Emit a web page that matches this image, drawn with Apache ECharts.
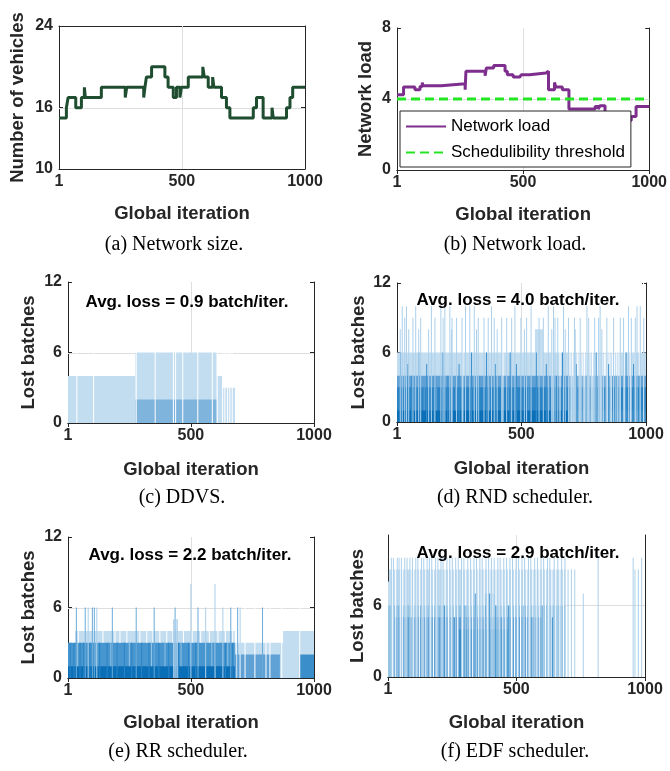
<!DOCTYPE html>
<html><head><meta charset="utf-8">
<script src="https://cdn.jsdelivr.net/npm/echarts@6/dist/echarts.min.js"></script>
<style>html,body{margin:0;padding:0;background:#fff}#c{width:670px;height:771px}</style>
</head><body><div id="c"></div>
<script>
// ---------------- data ----------------
const xTicks = [1, 500, 1000];
// (a) Network size
const vehIter  = [1, 31, 38, 69, 92, 104, 108, 173, 270, 276, 345, 350, 356, 377, 431, 444, 465, 478, 492, 498, 526, 585, 591, 607, 625, 630, 661, 681, 695, 790, 803, 830, 866, 871, 925, 939, 950, 1000];
const vehCount = [15, 16, 17, 16, 17, 18, 17, 18, 17, 18, 17, 18, 19, 20, 19, 18, 17, 18, 17, 18, 19, 20, 19, 18, 19, 18, 17, 16, 15, 16, 17, 15, 16, 15, 16, 17, 18, 18];
const vehTicks = [10, 16, 24];
// (b) Network load
const loadIter  = [1, 27, 72, 92, 101, 104, 176, 271, 274, 350, 355, 384, 429, 438, 461, 487, 494, 526, 591, 601, 625, 630, 656, 682, 786, 798, 805, 825, 860, 900, 929, 948, 1000];
const loadValue = [4.24, 4.67, 4.52, 4.71, 4.93, 4.75, 4.86, 4.52, 5.56, 5.31, 5.74, 5.89, 5.56, 5.37, 5.24, 5.18, 5.37, 5.46, 5.56, 4.52, 4.93, 4.67, 4.52, 3.43, 3.58, 3.43, 3.62, 3.2, 3.0, 2.79, 3.01, 3.58, 3.58];
const threshold = 4;
const loadTicks = [0, 4, 8];
const lostTicks = [0, 6, 12];
// bands: [firstIter, lastIter, height, shade]
const ddvsBands = [[1,274,4,1],[275,604,6,1],[605,628,4,1],[629,679,3,1],[275,604,2,7]];
const ddvsGaps  = [37,105,278,355,429,438,467,528,587,607,629,638,649,658,668];

const rndBands  = [[1,690,6,1],[896,1000,6,1],[555,586,8,1],[1,1000,4,9],[1,1000,3,8],[1,688,1,5],[689,1000,1,4]];
const rndLight6 = [695,702,710,716,722,731,740,748,757,766,775,781,790,800,808,815,822,830,840,848,856,862,870,878,885,892];
const rndSpike10 = [22,39,76,139,177,193,213,276,293,311,380,474,539,608,629,669,763,816,930,964,977];
const rndSpike9  = [32,65,96,153,186,222,240,262,327,350,367,391,421,441,461,498,521,571,588,635,646,689,713,736,770,794,810,843,870,897,910,941,957,991];
const rndSpike8  = [14,48,88,128,220,320,403,512,622,676,716,823];
const rndDark    = [[15,6],[45,5],[60,4],[88,6],[120,5],[150,4],[185,6],[205,4],[250,5],[300,6],[330,4],[360,6],[395,5],[420,4],[455,6],[480,5],[520,4],[560,6],[600,5],[640,4],[665,6],[720,5],[760,4],[800,6],[850,5],[880,4],[920,6],[950,5],[975,4]];
const rndLightLow = [30,72,110,160,236,310,372,448,530,612,680];
const rndWhite   = [265,426,623,655,700,707,716,735,752,770,784,800,818,845,860,880,897,915,937,957,975,990];

const rrBands   = [[30,678,4,1],[875,1000,4,1],[679,1000,3,1],[1,678,3,10],[679,861,2,9],[943,1000,2,4],[1,678,1,5]];
const rrSpike6  = [35,71,100,108,181,278,351,436,529,662,690,791];
const rrSpike6L = [83,118,560,630,700];
const rrSpike5  = [430,435,440,445];
const rrSpike8  = [500,598];
const rrWhite34 = [22,43,71,102,143,192,212,240,293,321,346,374,402,427,470,505,540,575,610,640,670];
const rrDark    = [10,25,50,65,90,130,160,200,230,260,300,330,370,410,450,490,520,560,600,640,670];
const rrLight   = [40,115,175,250,340,395,460,530,585,650];
const rrWhite   = [687,700,720,760,805,821,869,942];

const edfBands  = [[1,27,8,1],[5,690,9,1],[377,416,7,2],[1,690,6,2],[27,600,5,9],[273,468,4,4]];
const edfSpike10 = [14,22,37,44,53,66,75,86,96,109,117,131,140,153,162,171,186,195,207,215,230,241,251,264,274,287,296,311,322,335,345,358,367,382,392,403,414,428,437,451,462,475,485,499,508,522,532,547,556,571,582,596,606,621,630,647,661,676,689,818,954,987];
const edfSpike9  = [701,714,727,961,974];
const edfSpike7  = [760];
const edfWhite   = [18,31,49,58,71,91,101,113,124,137,148,167,178,191,211,223,236,247,259,271,291,303,317,329,341,352,363,375,387,397,409,421,433,445,457,469,481,493,504,516,528,540,552,564,577,589,601,613,626,638,653,669,683];
const edfDark    = [[40,6],[95,5],[130,6],[170,5],[220,6],[260,5],[300,6],[340,7],[380,6],[395,7],[420,6],[440,5],[470,6],[500,5],[530,6],[560,5],[600,6],[640,5]];

// ---------------- styling ----------------
const SHADES = ['#ffffff', '#c3ddf0', '#94c4e4', '#6aaad8', '#3a8fcb', '#0b6fb8', '#acd0eb', '#7fb5dd', '#2a84c5', '#5fa0d5', '#4896cf'];
const FONT = '"Liberation Sans", Arial, Helvetica, sans-serif';
const TXT = '#262626';
const grids = [
  {left:59,  top:26,  width:246, height:143},
  {left:397, top:28,  width:256, height:142},
  {left:68,  top:282, width:246, height:141},
  {left:397, top:283, width:249, height:139},
  {left:68,  top:537, width:246, height:141},
  {left:388, top:535, width:257, height:142}
];
const yCfg = [
  {min:10, max:24, ticks:vehTicks, name:'Number of vehicles', gap:32, grid:16},
  {min:0, max:8, ticks:loadTicks, name:'Network load', gap:22, grid:4},
  {min:0, max:12, ticks:lostTicks, name:'Lost batches', gap:30, grid:6},
  {min:0, max:12, ticks:lostTicks, name:'Lost batches', gap:29, grid:6},
  {min:0, max:12, ticks:lostTicks, name:'Lost batches', gap:30, grid:6},
  {min:0, max:11.9, ticks:[0,6], name:'Lost batches', gap:21, grid:6}
];
const xNameGap = [35, 35, 37, 37, 35, 36];

const xAxis = [], yAxis = [], series = [];
const fmt = v => String(v);
const nameStyle = {fontSize:18.5, fontWeight:'bold', color:TXT, fontFamily:FONT};
grids.forEach((g, i) => {
  const yc = yCfg[i];
  const lineS = {show:true, lineStyle:{color:TXT, width:1}};
  xAxis.push({gridIndex:i, type:'value', min:1, max:1000, position:'bottom', axisLine:lineS,
    axisTick:{inside:true, length:4, customValues:xTicks, lineStyle:{color:TXT}},
    axisLabel:{customValues:xTicks, formatter:fmt, fontSize:16, fontWeight:'bold', color:TXT, fontFamily:FONT, margin:5},
    splitLine:{show:false}, name:'Global iteration', nameLocation:'middle', nameGap:xNameGap[i],
    nameTextStyle:nameStyle});
  xAxis.push({gridIndex:i, type:'value', min:1, max:1000, position:'top', axisLine:lineS,
    axisTick:{inside:true, length:4, customValues:xTicks, lineStyle:{color:TXT}},
    axisLabel:{show:false}, splitLine:{show:false}});
  yAxis.push({gridIndex:i, type:'value', min:yc.min, max:yc.max, position:'left', axisLine:lineS,
    axisTick:{inside:true, length:4, customValues:yc.ticks, lineStyle:{color:TXT}},
    axisLabel:{customValues:yc.ticks, formatter:fmt, fontSize:16, fontWeight:'bold', color:TXT, fontFamily:FONT, margin:6},
    splitLine:{show:false}, name:yc.name, nameLocation:'middle', nameRotate:90, nameGap:yc.gap,
    nameTextStyle:nameStyle});
  yAxis.push({gridIndex:i, type:'value', min:yc.min, max:yc.max, position:'right', axisLine:lineS,
    axisTick:{inside:true, length:4, customValues:yc.ticks, lineStyle:{color:TXT}},
    axisLabel:{show:false}, splitLine:{show:false}});
  // grid lines (behind data)
  series.push({type:'custom', xAxisIndex:2*i, yAxisIndex:2*i, z:1, silent:true,
    data:[[500, yc.grid]], encode:{x:0, y:1},
    renderItem:(params, api) => {
      const p = api.coord([api.value(0), api.value(1)]);
      const cs = params.coordSys;
      const st = {stroke:'#dedede', lineWidth:1};
      return {type:'group', children:[
        {type:'line', shape:{x1:Math.round(p[0])+0.5, y1:cs.y, x2:Math.round(p[0])+0.5, y2:cs.y+cs.height}, style:st},
        {type:'line', shape:{x1:cs.x, y1:Math.round(p[1])+0.5, x2:cs.x+cs.width, y2:Math.round(p[1])+0.5}, style:st}
      ]};
    }});
});

function rectItem(params, api) {
  const x0 = api.value(0), x1 = api.value(1), y0 = api.value(2), y1 = api.value(3), sh = api.value(4);
  const a = api.coord([x0, y0]), b = api.coord([x1, y1]);
  let left = Math.min(a[0], b[0]), w = Math.abs(b[0] - a[0]);
  if (w < 1) { left = (a[0] + b[0]) / 2 - 0.5; w = 1; }
  return {type:'rect', shape:{x:left, y:b[1], width:w, height:a[1]-b[1]}, style:{fill:SHADES[sh]}};
}
const bandRows = (list) => list.map(b => [b[0]-0.5, b[1]+0.5, 0, b[2], b[3]]);
const streakRows = (iters, bottom, top, shade) => iters.map(it => [it-0.5, it+0.5, bottom, top, shade]);
const pairRows = (list, bottom, shade) => list.map(p => [p[0]-0.5, p[0]+0.5, bottom, p[1], shade]);
function rectSeries(i, rows, z) {
  series.push({type:'custom', xAxisIndex:2*i, yAxisIndex:2*i, z:z, silent:true, clip:true,
    data:rows, encode:{x:[0,1], y:[2,3]}, renderItem:rectItem});
}

// (a)
series.push({type:'line', xAxisIndex:0, yAxisIndex:0, z:3, step:'end', symbol:'none',
  data:vehIter.map((x, k) => [x, vehCount[k]]), lineStyle:{color:'#1e4d2f', width:3}});
// (b)
series.push({name:'Network load', type:'line', xAxisIndex:2, yAxisIndex:2, z:3, step:'end', symbol:'none',
  data:loadIter.map((x, k) => [x, loadValue[k]]), lineStyle:{color:'#7e2f8e', width:3}, itemStyle:{color:'#7e2f8e'}});
series.push({name:'Schedulibility threshold', type:'line', xAxisIndex:2, yAxisIndex:2, z:3, symbol:'none',
  data:[[1, threshold], [1000, threshold]], lineStyle:{color:'#22e622', width:3, type:[9,5]}, itemStyle:{color:'#22e622'}});
// (c)
rectSeries(2, bandRows(ddvsBands), 2);
rectSeries(2, streakRows(ddvsGaps, 0, 12, 0), 3);
// (d)
rectSeries(3, bandRows(rndBands), 2);
rectSeries(3, [].concat(
  streakRows(rndWhite, 0, 12, 0),
  streakRows(rndLight6, 0, 6, 1),
  streakRows(rndLightLow, 1, 3, 9),
  pairRows(rndDark, 0, 4),
  streakRows(rndSpike10, 0, 10, 6),
  streakRows(rndSpike9, 0, 9, 6),
  streakRows(rndSpike8, 0, 8, 6)
), 3);
// (e)
rectSeries(4, bandRows(rrBands), 2);
rectSeries(4, [].concat(
  streakRows(rrWhite, 0, 12, 0),
  streakRows(rrWhite34, 3, 4, 0),
  streakRows(rrLight, 1, 3, 2),
  streakRows(rrDark, 0, 3, 8),
  streakRows(rrSpike6, 0, 6, 3),
  streakRows(rrSpike6L, 0, 6, 6),
  streakRows(rrSpike5, 0, 5, 6),
  streakRows(rrSpike8, 0, 8, 6)
), 3);
// (f)
rectSeries(5, bandRows(edfBands), 2);
rectSeries(5, [].concat(
  streakRows(edfWhite, 0, 12, 0),
  pairRows(edfDark, 0, 4),
  streakRows(edfSpike10, 0, 10, 6),
  streakRows(edfSpike9, 0, 9, 6),
  streakRows(edfSpike7, 0, 7, 6)
), 3);

const annot = (x, y, t) => ({type:'text', x:x, y:y, z:10, style:{text:t, font:'bold 17px ' + FONT, fill:'#000', align:'center', verticalAlign:'middle'}});
const cap = (x, y, t) => ({type:'text', x:x, y:y, z:10, style:{text:t, font:'20px "Liberation Serif", "Times New Roman", serif', fill:'#000', align:'center', verticalAlign:'middle'}});

const option = {
  animation:false,
  backgroundColor:'#fff',
  grid:grids,
  xAxis:xAxis,
  yAxis:yAxis,
  legend:{data:['Network load', 'Schedulibility threshold'], left:400, top:111, orient:'vertical',
    itemWidth:40, itemHeight:14, itemGap:9, padding:[7,6,6,5], borderColor:TXT, borderWidth:1, borderRadius:0,
    backgroundColor:'#fff', z:6, itemStyle:{opacity:0},
    textStyle:{fontSize:17, color:'#000', fontFamily:FONT}},
  series:series,
  graphic:[
    annot(187, 302, 'Avg. loss = 0.9 batch/iter.'),
    annot(518, 300, 'Avg. loss = 4.0 batch/iter.'),
    annot(190, 555, 'Avg. loss = 2.2 batch/iter.'),
    annot(518, 553, 'Avg. loss = 2.9 batch/iter.'),
    cap(174, 245, '(a) Network size.'),
    cap(515, 245, '(b) Network load.'),
    cap(182, 498, '(c) DDVS.'),
    cap(515, 498, '(d) RND scheduler.'),
    cap(178, 752, '(e) RR scheduler.'),
    cap(515, 752, '(f) EDF scheduler.')
  ]
};
echarts.init(document.getElementById('c'), null, {renderer:'canvas'}).setOption(option);
</script>
</body></html>
